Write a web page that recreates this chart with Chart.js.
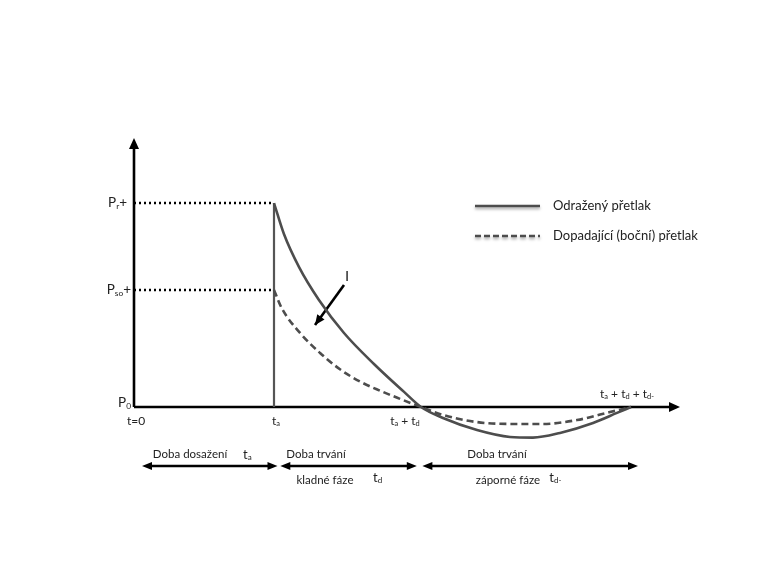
<!DOCTYPE html>
<html>
<head>
<meta charset="utf-8">
<script src="https://cdn.jsdelivr.net/npm/chart.js@4.4.1/dist/chart.umd.min.js"></script>
<style>
  html, body { margin: 0; padding: 0; background: #fff; }
  #wrap { width: 760px; height: 570px; }
</style>
</head>
<body>
<div id="wrap"><canvas id="chart" width="760" height="570"></canvas></div>
<script>
// time in units where t_a = 10, pressure in units where P_r+ = 10
const timeMarks = [0, 10, 20.5, 35.5];
const pressureMarks = [0, 5.74, 10];

const reflectedT = [10, 10.71, 11.79, 13.21, 15.0, 17.14, 19.29, 20.5, 22.07, 24.5, 26.86, 28.5, 30.43, 32.79, 34.5, 35.5];
const reflectedP = [10, 8.48, 6.86, 5.25, 3.63, 2.11, 0.74, 0, -0.54, -1.13, -1.47, -1.5, -1.27, -0.78, -0.29, 0];

const incidentT = [10, 10.55, 11.86, 13.29, 14.71, 16.14, 17.57, 19.0, 20.5, 22.07, 24.5, 26.86, 29.21, 31.64, 34, 35.5];
const incidentP = [5.74, 4.85, 3.63, 2.65, 1.85, 1.25, 0.8, 0.4, 0, -0.39, -0.74, -0.83, -0.83, -0.64, -0.25, 0];

// label "I" pointer: tail -> tip
const pointerT = [15, 12.93];
const pointerP = [5.98, 4.02];

const seriesNames = ['Odražený přetlak', 'Dopadající (boční) přetlak'];

// rich labels: [text, isSubscript]
const yTickLabels = [
  [['P', 0], ['0', 1]],
  [['P', 0], ['so', 1], ['+', 0]],
  [['P', 0], ['r', 1], ['+', 0]],
];
const xTickLabels = [
  [['t=0', 0]],
  [['t', 0], ['a', 1]],
  [['t', 0], ['a', 1], [' + t', 0], ['d', 1]],
  [['t', 0], ['a', 1], [' + t', 0], ['d', 1], [' + t', 0], ['d-', 1]],
];

const phaseSpans = [[0.57, 10.25], [10.45, 20.2], [20.6, 36.0]];
const phaseTop = ['Doba dosažení', 'Doba trvání', 'Doba trvání'];
const phaseBottom = ['', 'kladné fáze', 'záporné fáze'];
const phaseSymbol = [
  [['t', 0], ['a', 1]],
  [['t', 0], ['d', 1]],
  [['t', 0], ['d-', 1]],
];

const FONT = 'Lato, "Open Sans", sans-serif';
const DARK = '#4d4d4d';

const toPts = (xs, ys) => xs.map((x, i) => ({ x: x, y: ys[i] }));

function richWidth(ctx, parts, size) {
  let w = 0;
  parts.forEach(([t, sub]) => {
    ctx.font = (sub ? size * 0.62 : size) + 'px ' + FONT;
    w += ctx.measureText(t).width;
  });
  return w;
}

function drawRich(ctx, parts, x, y, size, align) {
  const w = richWidth(ctx, parts, size);
  let cx = align === 'right' ? x - w : align === 'center' ? x - w / 2 : x;
  ctx.textBaseline = 'middle';
  ctx.textAlign = 'left';
  parts.forEach(([t, sub]) => {
    ctx.font = (sub ? size * 0.62 : size) + 'px ' + FONT;
    ctx.fillText(t, cx, sub ? y + size * 0.22 : y);
    cx += ctx.measureText(t).width;
  });
}

function arrowHead(ctx, x, y, ang, len, half) {
  ctx.beginPath();
  ctx.moveTo(x, y);
  ctx.lineTo(x - len * Math.cos(ang) + half * Math.sin(ang), y - len * Math.sin(ang) - half * Math.cos(ang));
  ctx.lineTo(x - len * Math.cos(ang) - half * Math.sin(ang), y - len * Math.sin(ang) + half * Math.cos(ang));
  ctx.closePath();
  ctx.fill();
}

const diagramPlugin = {
  id: 'diagram',
  beforeDatasetsDraw(chart) {
    const ctx = chart.ctx;
    const xs = chart.scales.x, ys = chart.scales.y;
    const x0 = xs.getPixelForValue(0), y0 = ys.getPixelForValue(0);
    ctx.save();
    ctx.strokeStyle = '#000';
    ctx.fillStyle = '#000';
    ctx.lineWidth = 2.6;
    // axes
    ctx.beginPath();
    ctx.moveTo(x0, y0);
    ctx.lineTo(x0, ys.getPixelForValue(ys.max) + 6);
    ctx.moveTo(x0, y0);
    ctx.lineTo(xs.getPixelForValue(xs.max) - 6, y0);
    ctx.stroke();
    arrowHead(ctx, x0, ys.getPixelForValue(ys.max), -Math.PI / 2, 11, 5);
    arrowHead(ctx, xs.getPixelForValue(xs.max), y0, 0, 11, 5);
    ctx.restore();
  },
  afterDatasetsDraw(chart) {
    const ctx = chart.ctx;
    const xs = chart.scales.x, ys = chart.scales.y;
    const px = v => xs.getPixelForValue(v);
    const py = v => ys.getPixelForValue(v);
    ctx.save();
    ctx.fillStyle = '#222';

    // y tick labels
    drawRich(ctx, yTickLabels[0], px(0) - 3, py(pressureMarks[0]) - 4, 13.5, 'right');
    drawRich(ctx, yTickLabels[1], px(0) - 3, py(pressureMarks[1]), 13.5, 'right');
    drawRich(ctx, yTickLabels[2], px(0) - 7, py(pressureMarks[2]), 13.5, 'right');

    // x tick labels
    drawRich(ctx, xTickLabels[0], px(timeMarks[0]) + 2, py(0) + 14, 12, 'center');
    drawRich(ctx, xTickLabels[1], px(timeMarks[1]) + 2, py(0) + 14, 12, 'center');
    drawRich(ctx, xTickLabels[2], px(timeMarks[2]) - 16, py(0) + 14, 12, 'center');
    drawRich(ctx, xTickLabels[3], px(timeMarks[3]) - 4, py(0) - 13, 12, 'center');

    // pointer arrow head + label
    const tx = px(pointerT[1]), ty = py(pointerP[1]);
    const ang = Math.atan2(ty - py(pointerP[0]), tx - px(pointerT[0]));
    ctx.fillStyle = '#000';
    arrowHead(ctx, tx, ty, ang, 10, 4.5);
    ctx.font = '13px ' + FONT;
    ctx.textAlign = 'center';
    ctx.textBaseline = 'middle';
    ctx.fillText('I', px(pointerT[0]) + 3, py(pointerP[0]) - 8);

    // phase spans
    const yArrow = py(-2.89);
    ctx.strokeStyle = '#000';
    ctx.lineWidth = 2.4;
    phaseSpans.forEach(([a, b]) => {
      const xa = px(a), xb = px(b);
      ctx.beginPath();
      ctx.moveTo(xa + 5, yArrow);
      ctx.lineTo(xb - 5, yArrow);
      ctx.stroke();
      arrowHead(ctx, xa, yArrow, Math.PI, 10, 4);
      arrowHead(ctx, xb, yArrow, 0, 10, 4);
    });
    ctx.fillStyle = '#222';
    ctx.font = '11.5px ' + FONT;
    ctx.textAlign = 'center';
    ctx.fillText(phaseTop[0], px(4.0), py(-2.3));
    ctx.fillText(phaseTop[1], px(13.0), py(-2.3));
    ctx.fillText(phaseTop[2], px(25.93), py(-2.3));
    ctx.fillText(phaseBottom[1], px(13.64), py(-3.6));
    ctx.fillText(phaseBottom[2], px(26.71), py(-3.6));
    drawRich(ctx, phaseSymbol[0], px(8.1), py(-2.35), 13, 'center');
    drawRich(ctx, phaseSymbol[1], px(17.4), py(-3.45), 13, 'center');
    drawRich(ctx, phaseSymbol[2], px(30.1), py(-3.45), 13, 'center');

    // legend
    const lx0 = 475, lx1 = 540;
    const rows = [206, 236];
    ctx.lineWidth = 2.6;
    ctx.strokeStyle = DARK;
    ctx.shadowColor = 'rgba(0,0,0,0.35)';
    ctx.shadowBlur = 3;
    ctx.shadowOffsetY = 2;
    rows.forEach((ry, i) => {
      ctx.setLineDash(i === 0 ? [] : [6, 3]);
      ctx.beginPath();
      ctx.moveTo(lx0, ry);
      ctx.lineTo(lx1, ry);
      ctx.stroke();
    });
    ctx.setLineDash([]);
    ctx.shadowColor = 'transparent';
    ctx.font = '13px ' + FONT;
    ctx.textAlign = 'left';
    ctx.fillStyle = '#222';
    rows.forEach((ry, i) => ctx.fillText(seriesNames[i], 553, ry));
    ctx.restore();
  }
};

new Chart(document.getElementById('chart'), {
  type: 'line',
  data: {
    datasets: [
      {
        label: seriesNames[0],
        data: toPts(reflectedT, reflectedP),
        borderColor: DARK,
        borderWidth: 2.6,
        pointRadius: 0,
        cubicInterpolationMode: 'monotone',
      },
      {
        label: seriesNames[1],
        data: toPts(incidentT, incidentP),
        borderColor: DARK,
        borderWidth: 2.6,
        borderDash: [7, 4],
        pointRadius: 0,
        cubicInterpolationMode: 'monotone',
      },
      {
        label: 'ta',
        data: [{ x: timeMarks[1], y: 0 }, { x: timeMarks[1], y: pressureMarks[2] }],
        borderColor: '#555',
        borderWidth: 2.2,
        pointRadius: 0,
      },
      {
        label: 'Pr',
        data: [{ x: 0, y: pressureMarks[2] }, { x: timeMarks[1], y: pressureMarks[2] }],
        borderColor: '#000',
        borderWidth: 2.6,
        borderDash: [2, 3],
        pointRadius: 0,
      },
      {
        label: 'Pso',
        data: [{ x: 0, y: pressureMarks[1] }, { x: timeMarks[1], y: pressureMarks[1] }],
        borderColor: '#000',
        borderWidth: 2.6,
        borderDash: [2, 3],
        pointRadius: 0,
      },
      {
        label: 'I',
        data: toPts(pointerT, pointerP),
        borderColor: '#000',
        borderWidth: 2.6,
        pointRadius: 0,
      },
    ],
  },
  options: {
    responsive: false,
    animation: false,
    layout: { padding: { left: 134, right: 80, top: 138, bottom: 70 } },
    scales: {
      x: { type: 'linear', min: 0, max: 39, display: false },
      y: { type: 'linear', min: -4.56, max: 13.19, display: false },
    },
    plugins: {
      legend: { display: false },
      tooltip: { enabled: false },
    },
  },
  plugins: [diagramPlugin],
});
</script>
</body>
</html>
